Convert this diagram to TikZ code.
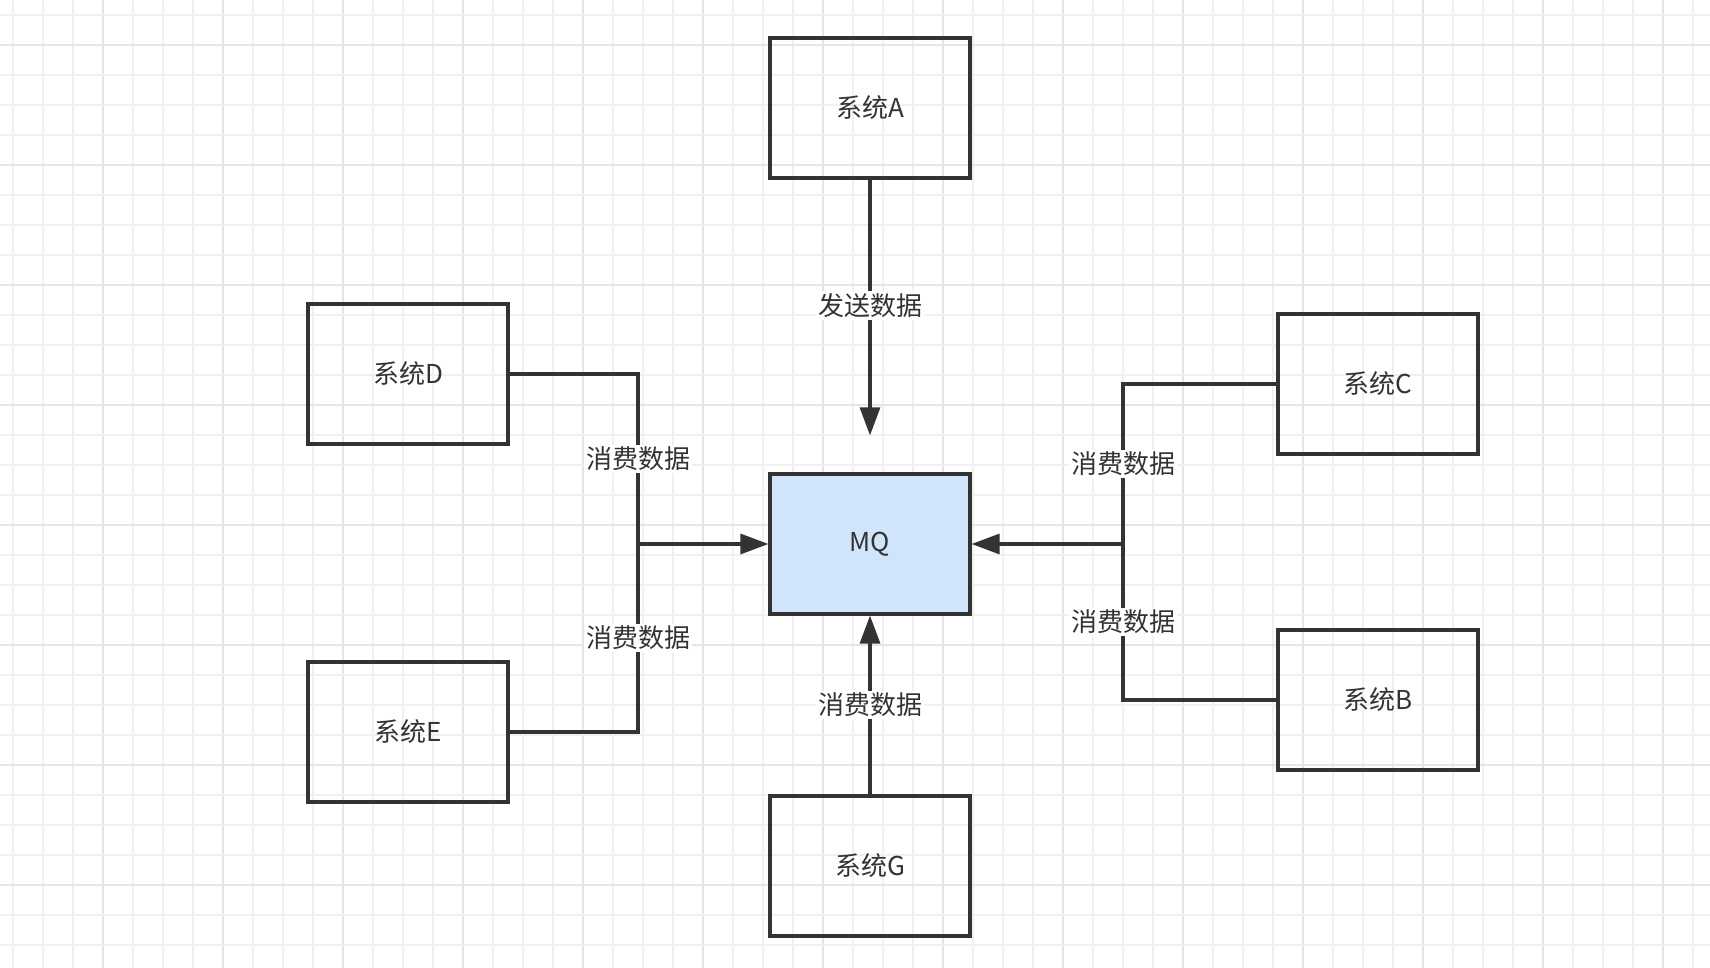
\documentclass[tikz,border=0pt]{standalone}
\usepackage{fontspec}
\setmainfont{Noto Sans CJK SC}
\usetikzlibrary{arrows.meta}
\definecolor{inkgray}{HTML}{333333}
\definecolor{gridminor}{HTML}{F0F0F0}
\definecolor{gridmajor}{HTML}{E5E5E5}
\definecolor{mqblue}{HTML}{D0E4FA}
\tikzset{
  sysbox/.style={draw=inkgray, line width=1.6pt, minimum width=100pt, minimum height=70pt, inner sep=0pt, text=inkgray, font=\fontsize{13}{15}\selectfont},
  lbl/.style={fill=white, inner sep=1pt, text=inkgray, font=\fontsize{13}{15}\selectfont},
  link/.style={draw=inkgray, line width=1.6pt},
  flow/.style={link, -{Triangle[length=14pt, width=10pt]}}
}
\begin{document}
\begin{tikzpicture}[x=0.5pt, y=-0.5pt]
  \useasboundingbox (0,0) rectangle (1710,968);
  \fill[white] (0,0) rectangle (1710,968);

  % Raster
  \foreach \k in {0,...,56} {
    \pgfmathtruncatemacro{\m}{mod(\k,4)}
    \ifnum\m=3 \draw[gridmajor, line width=0.9pt] (13+30*\k,0) -- (13+30*\k,968);
    \else \draw[gridminor, line width=0.9pt] (13+30*\k,0) -- (13+30*\k,968); \fi
  }
  \foreach \k in {0,...,31} {
    \pgfmathtruncatemacro{\m}{mod(\k,4)}
    \ifnum\m=1 \draw[gridmajor, line width=0.9pt] (0,15+30*\k) -- (1710,15+30*\k);
    \else \draw[gridminor, line width=0.9pt] (0,15+30*\k) -- (1710,15+30*\k); \fi
  }

  % Knoten
  \node[sysbox, fill=mqblue] (mq) at (870,544) {MQ};
  \node[sysbox] (sysA) at (870,108) {系统A};
  \node[sysbox] (sysG) at (870,866) {系统G};
  \node[sysbox] (sysD) at (408,374) {系统D};
  \node[sysbox] (sysE) at (408,732) {系统E};
  \node[sysbox] (sysC) at (1378,384) {系统C};
  \node[sysbox] (sysB) at (1378,700) {系统B};

  \coordinate (jl) at (638,544);
  \coordinate (jr) at (1123,544);

  % Verbindungen
  \draw[flow, shorten >=37pt/2] (sysA) -- node[lbl, pos=0.43] (lblA) {发送数据} (mq);
  \draw[flow] (sysG) -- node[lbl, pos=0.5] (lblG) {消费数据} (mq);

  \draw[link] (sysD.east) -| node[lbl, pos=0.75] (lblD) {消费数据} (jl);
  \draw[link] (sysE.east) -| node[lbl, pos=0.75] (lblE) {消费数据} (jl);
  \draw[flow] (jl) -- (mq.west);

  \draw[link] (sysC.west) -| node[lbl, pos=0.75] (lblC) {消费数据} (jr);
  \draw[link] (sysB.west) -| node[lbl, pos=0.75] (lblB) {消费数据} (jr);
  \draw[flow] (jr) -- (mq.east);
\end{tikzpicture}
\end{document}
